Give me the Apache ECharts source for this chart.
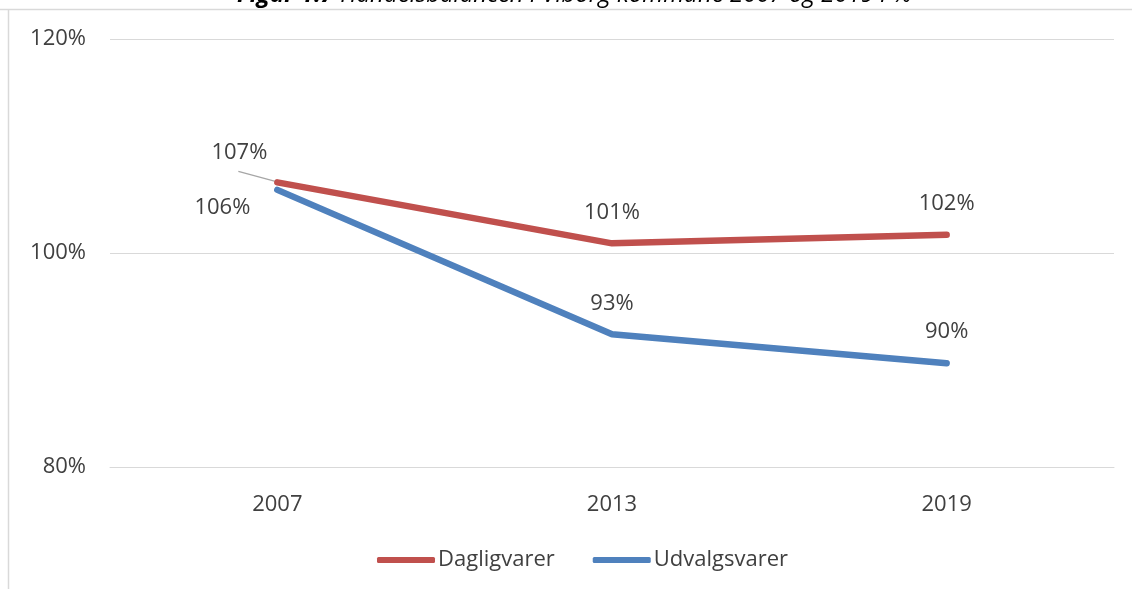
<!DOCTYPE html>
<html>
<head>
<meta charset="utf-8">
<script src="https://cdn.jsdelivr.net/npm/echarts@6/dist/echarts.min.js"></script>
<style>
    html, body {margin: 0; padding: 0; background: #fff;}
    #main {width: 1132px; height: 589px;}
</style>
</head>
<body>
<div id="main"></div>
<script>
// data
var years = ['2007', '2013', '2019'];
var dagligvarer = [106.6, 100.9, 101.7];
var udvalgsvarer = [105.9, 92.4, 89.7];
var dagligLabels = ['107%', '101%', '102%'];
var udvalgLabels = ['106%', '93%', '90%'];

var myChart = echarts.init(document.getElementById('main'));
var textColor = '#404040';
var font = 'Open Sans';

function makeData(values, labels, firstOffset) {
    return values.map(function (v, i) {
        var item = {value: v, labelText: labels[i]};
        if (i === 0) {
            item.label = {position: 'left', offset: firstOffset};
        }
        return item;
    });
}

var option = {
    backgroundColor: '#fff',
    animation: false,
    title: {
        text: '{b|Figur 1.7} Handelsbalancen i Viborg kommune 2007 og 2019 i %',
        left: 237,
        top: -18,
        padding: 0,
        textStyle: {
            fontFamily: font, fontSize: 24, lineHeight: 26, fontStyle: 'italic', fontWeight: 'normal', color: '#000',
            rich: {b: {fontFamily: font, fontSize: 24, lineHeight: 26, fontStyle: 'italic', fontWeight: 'bold', color: '#000'}}
        }
    },
    graphic: [
        {type: 'line', shape: {x1: 0, y1: 9.5, x2: 1132, y2: 9.5}, style: {stroke: '#d9d9d9', lineWidth: 1.5}},
        {type: 'line', shape: {x1: 8.5, y1: 9, x2: 8.5, y2: 589}, style: {stroke: '#d9d9d9', lineWidth: 1.5}}
    ],
    grid: {left: 110, right: 18, top: 39, bottom: 122},
    legend: {
        bottom: 13,
        left: 372,
        itemWidth: 58,
        itemHeight: 6,
        itemGap: 38,
        icon: 'roundRect',
        textStyle: {fontFamily: font, fontSize: 22, color: textColor, padding: [0, 0, 0, -2]},
        data: ['Dagligvarer', 'Udvalgsvarer']
    },
    xAxis: {
        type: 'category',
        data: years,
        boundaryGap: true,
        axisLine: {show: true, lineStyle: {color: '#d9d9d9', width: 1}},
        axisTick: {show: false},
        axisLabel: {fontFamily: font, fontSize: 22, color: textColor, margin: 27}
    },
    yAxis: {
        type: 'value',
        min: 80,
        max: 120,
        interval: 20,
        axisLine: {show: false},
        axisTick: {show: false},
        splitLine: {lineStyle: {color: '#d9d9d9', width: 1}},
        axisLabel: {fontFamily: font, fontSize: 22, color: textColor, margin: 24, formatter: '{value}%'}
    },
    series: [
        {
            name: 'Dagligvarer',
            type: 'line',
            data: makeData(dagligvarer, dagligLabels, [10, -30]),
            symbol: 'circle',
            symbolSize: 0,
            showSymbol: true,
            lineStyle: {width: 6.5, color: '#C0504D', cap: 'round'},
            itemStyle: {color: '#C0504D'},
            label: {
                show: true, position: 'top', distance: 20,
                fontFamily: font, fontSize: 22, color: textColor,
                formatter: function (p) { return p.data.labelText; }
            }
        },
        {
            name: 'Udvalgsvarer',
            type: 'line',
            data: makeData(udvalgsvarer, udvalgLabels, [-7, 18]),
            symbol: 'circle',
            symbolSize: 0,
            showSymbol: true,
            lineStyle: {width: 6.5, color: '#4F81BD', cap: 'round'},
            itemStyle: {color: '#4F81BD'},
            label: {
                show: true, position: 'top', distance: 20,
                fontFamily: font, fontSize: 22, color: textColor,
                formatter: function (p) { return p.data.labelText; }
            }
        }
    ]
};

myChart.setOption(option);

// leader line from the moved 2007 label to its point
var pt = myChart.convertToPixel({gridIndex: 0}, [years[0], dagligvarer[0]]);
myChart.setOption({
    graphic: option.graphic.concat([
        {type: 'line', z: 1, shape: {x1: pt[0] - 39, y1: pt[1] - 11, x2: pt[0] - 2, y2: pt[1] - 1},
         style: {stroke: '#a6a6a6', lineWidth: 1.2}}
    ])
});
</script>
</body>
</html>
